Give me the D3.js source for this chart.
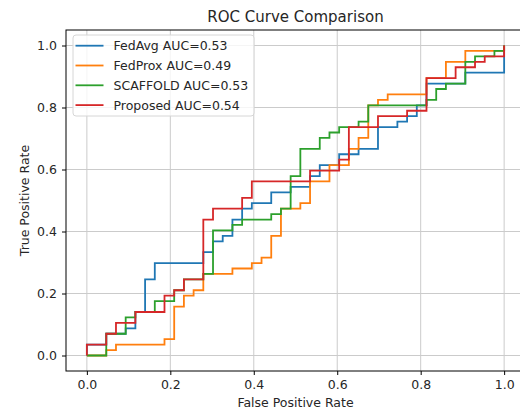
<!DOCTYPE html>
<html>
<head>
<meta charset="utf-8">
<script src="https://cdn.jsdelivr.net/npm/d3@7"></script>
<style>
    body { margin: 0; background: #fff; }
    #roc-area { width: 520px; height: 412px; overflow: hidden; }
    text { font-family: "DejaVu Sans", sans-serif; }
</style>
</head>
<body>
<div id="roc-area"></div>
<script>

// ROC step curves as [false positive count, true positive count]
// (43 negatives, 57 positives in the test set)
const N_NEG = 43;
const N_POS = 57;

const fedAvgPts = [[0,0],[0,2],[2,2],[2,4],[4,4],[4,5],[5,5],[5,8],[6,8],[6,14],[7,14],[7,17],[12,17],[12,19],
    [13,19],[13,21],[14,21],[14,22],[15,22],[15,25],[16,25],[16,27],[17,27],[17,28],[19,28],[19,30],[21,30],[21,31],
    [23,31],[23,33],[24,33],[24,35],[26,35],[26,37],[28,37],[28,38],[30,38],[30,42],[32,42],[32,43],[33,43],[33,44],
    [34,44],[34,46],[35,46],[35,50],[39,50],[39,52],[43,52],[43,57]];

const fedProxPts = [[0,0],[2,0],[2,1],[3,1],[3,2],[8,2],[8,3],[9,3],[9,9],[10,9],[10,11],[11,11],[11,12],[12,12],
    [12,15],[15,15],[15,16],[17,16],[17,17],[18,17],[18,18],[19,18],[19,22],[20,22],[20,27],[22,27],[22,28],[23,28],
    [23,32],[25,32],[25,35],[27,35],[27,38],[28,38],[28,40],[29,40],[29,46],[30,46],[30,47],[31,47],[31,48],[35,48],
    [35,51],[37,51],[37,54],[39,54],[39,56],[43,56],[43,57]];

const scaffoldPts = [[0,0],[2,0],[2,4],[4,4],[4,7],[5,7],[5,8],[7,8],[7,10],[9,10],[9,12],[10,12],[10,14],[12,14],
    [12,15],[13,15],[13,23],[15,23],[15,24],[16,24],[16,25],[19,25],[19,26],[20,26],[20,27],[21,27],[21,33],[22,33],
    [22,38],[24,38],[24,40],[25,40],[25,41],[26,41],[26,42],[28,42],[28,43],[29,43],[29,46],[35,46],[35,47],[36,47],
    [36,49],[37,49],[37,50],[39,50],[39,54],[40,54],[40,55],[42,55],[42,56],[43,56],[43,57]];

const proposedPts = [[0,0],[0,2],[2,2],[2,4],[3,4],[3,6],[5,6],[5,8],[8,8],[8,11],[9,11],[9,12],[10,12],[10,14],
    [12,14],[12,25],[13,25],[13,27],[16,27],[16,29],[17,29],[17,32],[23,32],[23,34],[26,34],[26,36],[27,36],[27,42],
    [30,42],[30,44],[33,44],[33,45],[35,45],[35,51],[38,51],[38,53],[40,53],[40,54],[41,54],[41,55],[43,55],[43,57]];

const modelNames = ["FedAvg", "FedProx", "SCAFFOLD", "Proposed"];
const aucValues = [0.53, 0.49, 0.53, 0.54];
const tickValues = [0.0, 0.2, 0.4, 0.6, 0.8, 1.0];


class RocVis {

    constructor(parentElement, curves) {
        this.parentElement = parentElement;
        this.curves = curves;
        this.colors = ["#1f77b4", "#ff7f0e", "#2ca02c", "#d62728"];

        this.initVis();
    }

    initVis() {
        let vis = this;

        vis.width = 520;
        vis.height = 412;

        // axes box (right edge runs a little past the picture, like the original crop)
        vis.box = {left: 66, right: 525, top: 30, bottom: 371};

        vis.svg = d3.select("#" + vis.parentElement).append("svg")
            .attr("width", vis.width)
            .attr("height", vis.height);

        vis.x = d3.scaleLinear().domain([-0.05, 1.05]).range([vis.box.left, vis.box.right]);
        vis.y = d3.scaleLinear().domain([-0.05, 1.05]).range([vis.box.bottom, vis.box.top]);

        vis.wrangleData();
    }

    wrangleData() {
        let vis = this;

        // counts -> rates
        vis.displayData = vis.curves.map((pts, i) => ({
            name: modelNames[i] + " AUC=" + aucValues[i].toFixed(2),
            color: vis.colors[i],
            values: pts.map(p => ({fpr: p[0] / N_NEG, tpr: p[1] / N_POS}))
        }));

        vis.updateVis();
    }

    updateVis() {
        let vis = this;
        let b = vis.box;

        // grid
        vis.svg.append("g").selectAll("line.vgrid")
            .data(tickValues)
            .enter()
            .append("line")
            .attr("class", "vgrid")
            .attr("x1", d => vis.x(d)).attr("x2", d => vis.x(d))
            .attr("y1", b.top).attr("y2", b.bottom)
            .attr("stroke", "#cbcbcb")
            .attr("stroke-width", 1);

        vis.svg.append("g").selectAll("line.hgrid")
            .data(tickValues)
            .enter()
            .append("line")
            .attr("class", "hgrid")
            .attr("x1", b.left).attr("x2", b.right)
            .attr("y1", d => vis.y(d)).attr("y2", d => vis.y(d))
            .attr("stroke", "#cbcbcb")
            .attr("stroke-width", 1);

        // curves
        let line = d3.line()
            .x(d => vis.x(d.fpr))
            .y(d => vis.y(d.tpr));

        vis.svg.append("g").selectAll("path.roc")
            .data(vis.displayData)
            .enter()
            .append("path")
            .attr("class", "roc")
            .attr("d", d => line(d.values))
            .attr("fill", "none")
            .attr("stroke", d => d.color)
            .attr("stroke-width", 1.8)
            .attr("stroke-linejoin", "miter");

        // axes
        let xAxis = d3.axisBottom(vis.x).tickValues(tickValues).tickFormat(d3.format(".1f")).tickSize(4).tickPadding(5);
        let yAxis = d3.axisLeft(vis.y).tickValues(tickValues).tickFormat(d3.format(".1f")).tickSize(4).tickPadding(5);

        let gx = vis.svg.append("g")
            .attr("transform", "translate(0," + b.bottom + ")")
            .call(xAxis);
        let gy = vis.svg.append("g")
            .attr("transform", "translate(" + b.left + ",0)")
            .call(yAxis);

        [gx, gy].forEach(g => {
            g.select(".domain").remove();
            g.selectAll(".tick line").attr("stroke", "#000").attr("stroke-width", 1);
            g.selectAll(".tick text")
                .attr("fill", "#262626")
                .style("font-size", "12.5px")
                .style("font-family", "DejaVu Sans");
        });

        // spines
        vis.svg.append("rect")
            .attr("x", b.left)
            .attr("y", b.top)
            .attr("width", b.right - b.left)
            .attr("height", b.bottom - b.top)
            .attr("fill", "none")
            .attr("stroke", "#000")
            .attr("stroke-width", 1);

        // title + labels
        let cx = (b.left + b.right) / 2;
        vis.svg.append("text")
            .attr("x", cx)
            .attr("y", 22)
            .attr("text-anchor", "middle")
            .style("font-size", "15px")
            .attr("fill", "#262626")
            .text("ROC Curve Comparison");

        vis.svg.append("text")
            .attr("x", cx)
            .attr("y", 407)
            .attr("text-anchor", "middle")
            .style("font-size", "12.5px")
            .attr("fill", "#262626")
            .text("False Positive Rate");

        vis.svg.append("text")
            .attr("transform", "translate(29," + ((b.top + b.bottom) / 2) + ") rotate(-90)")
            .attr("text-anchor", "middle")
            .style("font-size", "12.5px")
            .attr("fill", "#262626")
            .text("True Positive Rate");

        // legend, upper left
        let legend = vis.svg.append("g")
            .attr("transform", "translate(73,35)");

        legend.append("rect")
            .attr("width", 181)
            .attr("height", 81)
            .attr("rx", 3)
            .attr("fill", "#fff")
            .attr("fill-opacity", 0.8)
            .attr("stroke", "#d6d6d6")
            .attr("stroke-width", 1);

        let rows = legend.selectAll("g.row")
            .data(vis.displayData)
            .enter()
            .append("g")
            .attr("class", "row")
            .attr("transform", (d, i) => "translate(0," + (10.7 + i * 19.8) + ")");

        rows.append("line")
            .attr("x1", 2.5).attr("x2", 30.5)
            .attr("stroke", d => d.color)
            .attr("stroke-width", 1.8);

        rows.append("text")
            .attr("x", 40.5)
            .attr("dy", "0.36em")
            .style("font-size", "12.5px")
            .attr("fill", "#262626")
            .text(d => d.name);
    }
}

new RocVis("roc-area", [fedAvgPts, fedProxPts, scaffoldPts, proposedPts]);

</script>
</body>
</html>
